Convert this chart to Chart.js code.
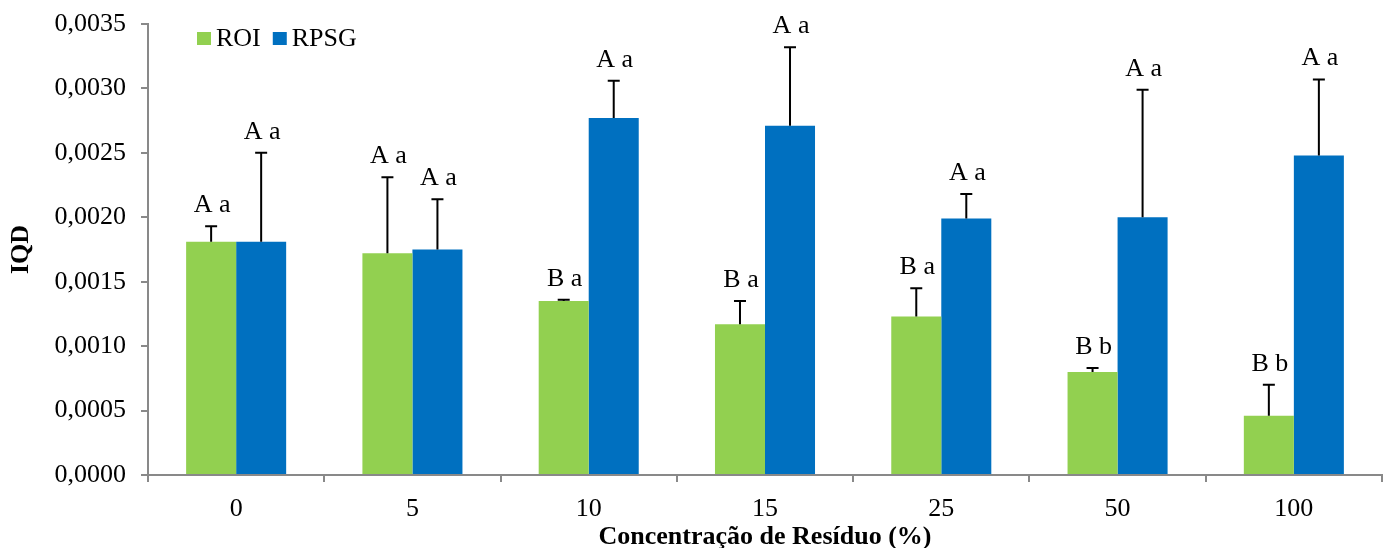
<!DOCTYPE html>
<html>
<head>
<meta charset="utf-8">
<script src="https://cdn.jsdelivr.net/npm/chart.js@4/dist/chart.umd.min.js"></script>
<style>
  html, body { margin: 0; padding: 0; background: #ffffff; }
  #wrap { width: 1388px; height: 548px; position: relative; }
</style>
</head>
<body>
<div id="wrap"><canvas id="chart" width="1388" height="548"></canvas></div>
<script>
// Residue concentration (%) on the x axis
const categories = ['0', '5', '10', '15', '25', '50', '100'];

// Mean IQD per treatment
const roiValues  = [0.00181, 0.00172, 0.00135, 0.00117, 0.00123, 0.00080, 0.00046];
const rpsgValues = [0.00181, 0.00175, 0.00277, 0.00271, 0.00199, 0.00200, 0.00248];

// Upper error (standard deviation) per treatment
const roiErrors  = [0.00012, 0.00059, 0.00001, 0.00018, 0.00022, 0.00003, 0.00024];
const rpsgErrors = [0.00069, 0.00039, 0.00029, 0.00061, 0.00019, 0.00099, 0.00059];

// Significance letters over each bar
const roiLetters  = ['A a', 'A a', 'B a', 'B a', 'B a', 'B b', 'B b'];
const rpsgLetters = ['A a', 'A a', 'A a', 'A a', 'A a', 'A a', 'A a'];

// Y axis ticks
const yTicks = [0, 0.0005, 0.0010, 0.0015, 0.0020, 0.0025, 0.0030, 0.0035];

const FONT = "'Liberation Serif', 'Times New Roman', serif";
const AXIS_GREY = '#898989';

const errorsByDataset = [roiErrors, rpsgErrors];
const lettersByDataset = [roiLetters, rpsgLetters];

// Draws the upper error whiskers, the letter annotations and the legend
const annotations = {
  id: 'annotations',
  afterDatasetsDraw(chart) {
    const ctx = chart.ctx;
    const y = chart.scales.y;
    ctx.save();
    chart.data.datasets.forEach((ds, di) => {
      const meta = chart.getDatasetMeta(di);
      meta.data.forEach((bar, i) => {
        const top = y.getPixelForValue(ds.data[i] + errorsByDataset[di][i]);
        const base = y.getPixelForValue(ds.data[i]);
        ctx.strokeStyle = '#000000';
        ctx.lineWidth = 2;
        ctx.beginPath();
        ctx.moveTo(bar.x, base);
        ctx.lineTo(bar.x, top);
        ctx.moveTo(bar.x - 6, top);
        ctx.lineTo(bar.x + 6, top);
        ctx.stroke();

        ctx.fillStyle = '#000000';
        ctx.font = '26px ' + FONT;
        ctx.textAlign = 'center';
        ctx.textBaseline = 'alphabetic';
        ctx.fillText(lettersByDataset[di][i], bar.x + 1, top - 14);
      });
    });

    // Legend inside the plot area
    let x = chart.chartArea.left + 49;
    const baseline = 46;
    ctx.font = '26px ' + FONT;
    ctx.textAlign = 'left';
    ctx.textBaseline = 'alphabetic';
    chart.data.datasets.forEach((ds) => {
      ctx.fillStyle = ds.backgroundColor;
      ctx.fillRect(x, 32, 14, 13);
      ctx.fillStyle = '#000000';
      ctx.fillText(ds.label, x + 19, baseline);
      x += 19 + ctx.measureText(ds.label).width + 12;
    });
    ctx.restore();
  }
};

new Chart(document.getElementById('chart'), {
  type: 'bar',
  data: {
    labels: categories,
    datasets: [
      { label: 'ROI',  data: roiValues,  backgroundColor: '#92D050', borderWidth: 0 },
      { label: 'RPSG', data: rpsgValues, backgroundColor: '#0070C0', borderWidth: 0 }
    ]
  },
  options: {
    responsive: false,
    animation: false,
    devicePixelRatio: 1,
    layout: { padding: { left: 0, right: 6, top: 24, bottom: 0 } },
    datasets: { bar: { categoryPercentage: 0.5675, barPercentage: 1.0 } },
    plugins: {
      legend: { display: false },
      tooltip: { enabled: false }
    },
    scales: {
      x: {
        grid: {
          display: true,
          drawOnChartArea: false,
          offset: true,
          color: AXIS_GREY,
          lineWidth: 2,
          tickLength: 7
        },
        border: { display: true, color: AXIS_GREY, width: 2 },
        ticks: {
          color: '#000000',
          font: { family: FONT, size: 26 },
          padding: 12,
          maxRotation: 0
        },
        title: {
          display: true,
          text: 'Concentração de Resíduo (%)',
          color: '#000000',
          font: { family: FONT, size: 26, weight: 'bold', lineHeight: 0.8 },
          padding: { top: 0, bottom: 0 }
        },
        afterFit(scale) {
          scale.height = 73;
          scale.paddingLeft = 0;
          scale.paddingRight = 0;
        }
      },
      y: {
        min: 0,
        max: 0.0035,
        afterBuildTicks(scale) { scale.ticks = yTicks.map(v => ({ value: v })); },
        grid: {
          display: true,
          drawOnChartArea: false,
          color: AXIS_GREY,
          lineWidth: 2,
          tickLength: 7
        },
        border: { display: true, color: AXIS_GREY, width: 2 },
        ticks: {
          color: '#000000',
          font: { family: FONT, size: 26 },
          padding: 15,
          callback: (v) => Number(v).toFixed(4).replace('.', ',')
        },
        title: {
          display: true,
          text: 'IQD',
          color: '#000000',
          font: { family: FONT, size: 26, weight: 'bold', lineHeight: 1 },
          padding: { top: 8, bottom: 0 }
        },
        afterFit(scale) {
          scale.width = 148;
          scale.paddingTop = 0;
          scale.paddingBottom = 0;
        }
      }
    }
  },
  plugins: [annotations]
});
</script>
</body>
</html>
